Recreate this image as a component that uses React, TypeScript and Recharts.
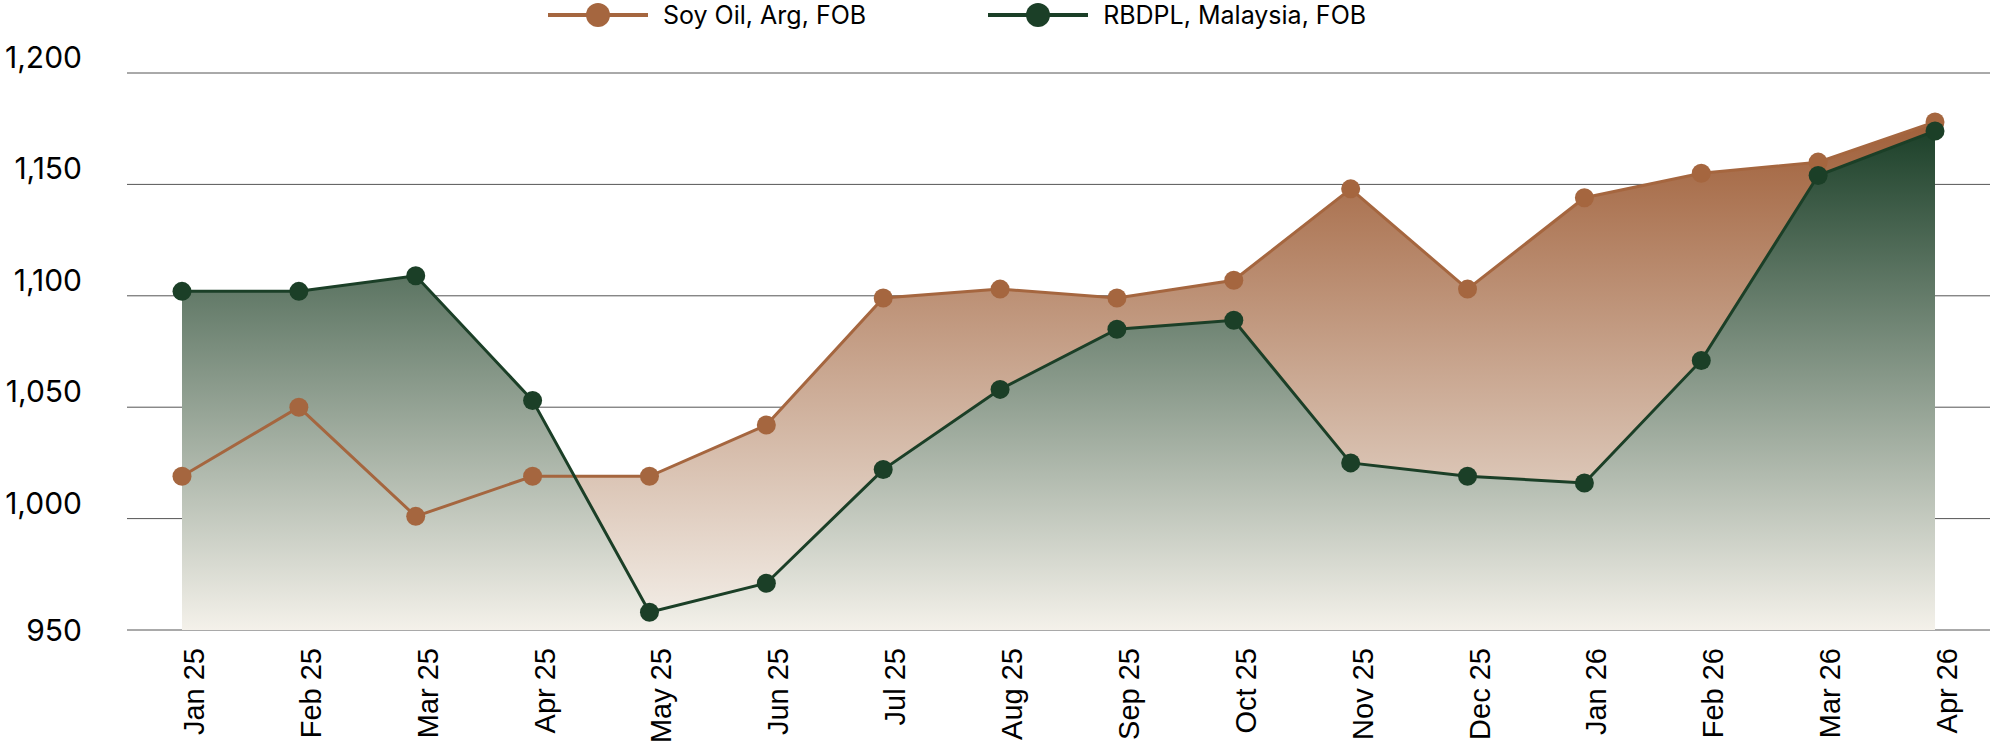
import React from "react";
import {
  ComposedChart,
  Area,
  Line,
  XAxis,
  YAxis,
  CartesianGrid,
  Legend,
} from "recharts";

const months = [
  "Jan 25", "Feb 25", "Mar 25", "Apr 25", "May 25", "Jun 25", "Jul 25", "Aug 25",
  "Sep 25", "Oct 25", "Nov 25", "Dec 25", "Jan 26", "Feb 26", "Mar 26", "Apr 26",
];
const soyOil = [1019, 1050, 1001, 1019, 1019, 1042, 1099, 1103, 1099, 1107, 1148, 1103, 1144, 1155, 1160, 1178];
const rbdpl = [1102, 1102, 1109, 1053, 958, 971, 1022, 1058, 1085, 1089, 1025, 1019, 1016, 1071, 1154, 1174];
const yTicks = [950, 1000, 1050, 1100, 1150, 1200];
const seriesNames = ["Soy Oil, Arg, FOB", "RBDPL, Malaysia, FOB"];

const BROWN = "#A5663F";
const GREEN = "#1B3F27";

const data = months.map((m, i) => ({ month: m, soy: soyOil[i], rbdpl: rbdpl[i] }));

const YTick = (props: any) => {
  const { x, y, payload } = props;
  const isBottom = payload.value === yTicks[0];
  return (
    <text
      x={x}
      y={isBottom ? y : y - 5}
      dy={isBottom ? "0.36em" : 0}
      textAnchor="end"
      fill="#000"
      fontSize={30}
      fontFamily="Inter"
    >
      {Number(payload.value).toLocaleString("en-US")}
    </text>
  );
};

const XTick = (props: any) => {
  const { x, y, payload } = props;
  return (
    <g transform={`translate(${x},${y + 18})`}>
      <text
        transform="rotate(-90)"
        x={0}
        y={22}
        textAnchor="end"
        fill="#000"
        fontSize={29}
        fontFamily="'Liberation Sans', Arial, sans-serif"
      >
        {payload.value}
      </text>
    </g>
  );
};

const LegendItem = ({ color, label }: { color: string; label: string }) => (
  <div style={{ display: "flex", alignItems: "center" }}>
    <svg width={100} height={30}>
      <line x1={0} y1={15} x2={100} y2={15} stroke={color} strokeWidth={4} />
      <circle cx={50} cy={15} r={12} fill={color} />
    </svg>
    <span style={{ marginLeft: 15, fontSize: 25, fontFamily: "Inter", color: "#000" }}>{label}</span>
  </div>
);

const renderLegend = () => (
  <div style={{ display: "flex", height: 30, paddingLeft: 548, gap: 122, alignItems: "center" }}>
    <LegendItem color={BROWN} label={seriesNames[0]} />
    <LegendItem color={GREEN} label={seriesNames[1]} />
  </div>
);

export default function App() {
  return (
    <div style={{ position: "absolute", left: 0, top: 0, background: "#fff" }}>
      <ComposedChart width={2000} height={743} data={data} margin={{ top: 43, right: 10, bottom: 0, left: 0 }}>
        <defs>
          <linearGradient id="soyFill" x1="0" y1="0" x2="0" y2="1">
            <stop offset="0%" stopColor="#A0603A" />
            <stop offset="100%" stopColor="#F4F0EA" />
          </linearGradient>
          <linearGradient id="palmFill" x1="0" y1="0" x2="0" y2="1">
            <stop offset="0%" stopColor="#1D412A" />
            <stop offset="100%" stopColor="#F4F1EA" />
          </linearGradient>
        </defs>
        <Legend verticalAlign="top" content={renderLegend} wrapperStyle={{ top: 0, left: 0, width: 2000, height: 30 }} />
        <CartesianGrid vertical={false} stroke="#555" strokeWidth={1} />
        <XAxis
          dataKey="month"
          interval={0}
          axisLine={false}
          tickLine={false}
          tickSize={0}
          tickMargin={0}
          height={113}
          padding={{ left: 55, right: 55 }}
          tick={<XTick />}
        />
        <YAxis
          domain={[950, 1200]}
          ticks={yTicks}
          axisLine={false}
          tickLine={false}
          tickSize={0}
          tickMargin={45}
          width={127}
          tick={<YTick />}
        />
        <Area dataKey="soy" type="linear" stroke="none" fill="url(#soyFill)" fillOpacity={1} isAnimationActive={false} />
        <Area dataKey="rbdpl" type="linear" stroke="none" fill="url(#palmFill)" fillOpacity={1} isAnimationActive={false} />
        <Line
          dataKey="soy"
          type="linear"
          stroke={BROWN}
          strokeWidth={3}
          dot={{ r: 9.5, fill: BROWN, stroke: "none" }}
          activeDot={false}
          isAnimationActive={false}
        />
        <Line
          dataKey="rbdpl"
          type="linear"
          stroke={GREEN}
          strokeWidth={3}
          dot={{ r: 9.5, fill: GREEN, stroke: "none" }}
          activeDot={false}
          isAnimationActive={false}
        />
      </ComposedChart>
    </div>
  );
}
